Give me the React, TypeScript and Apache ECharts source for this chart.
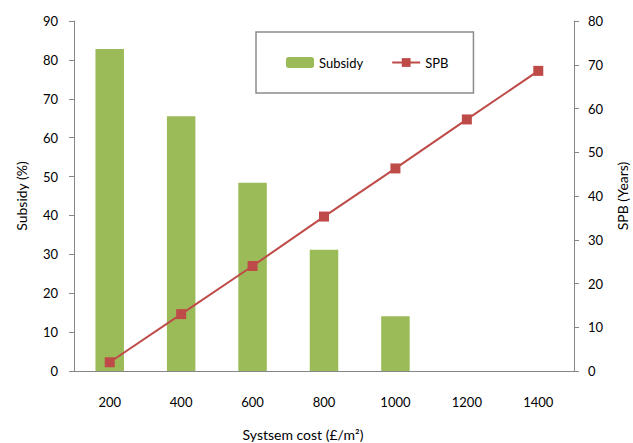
import React, { useEffect, useRef } from "react";
import * as echarts from "echarts";

// System cost categories (£/m²)
const costs = ["200", "400", "600", "800", "1000", "1200", "1400"];
// Subsidy required (%) — left axis
const subsidy = [82.8, 65.5, 48.4, 31.2, 14.1, 0, 0];
// Simple payback (years) — right axis
const spb = [2.0, 13.0, 24.0, 35.3, 46.3, 57.5, 68.6];

const FONT = "Lato";
const AXIS_GREY = "#868686";

export default function App() {
  const ref = useRef<HTMLDivElement>(null);

  useEffect(() => {
    if (!ref.current) return;
    const chart = echarts.init(ref.current, undefined, { renderer: "svg" });
    chart.setOption({
      animation: false,
      backgroundColor: "#ffffff",
      textStyle: { fontFamily: FONT },
      grid: {
        left: 74,
        right: 59,
        top: 21,
        bottom: 72,
        containLabel: false,
        outerBoundsMode: "none",
      },
      legend: {
        left: 256,
        top: 32,
        padding: [24, 25, 24, 30],
        itemGap: 28,
        itemWidth: 28,
        itemHeight: 11,
        borderColor: "#8c8c8c",
        borderWidth: 1.5,
        backgroundColor: "#ffffff",
        textStyle: { fontFamily: FONT, fontSize: 13, color: "#000" },
        data: ["Subsidy", "SPB"],
      },
      xAxis: {
        type: "category",
        data: costs,
        boundaryGap: true,
        name: "Systsem cost (£/m²)",
        nameLocation: "middle",
        nameGap: 56,
        nameTextStyle: {
          fontFamily: FONT,
          fontSize: 14,
          color: "#000",
          padding: [0, 42, 0, 0],
        },
        axisLine: { lineStyle: { color: AXIS_GREY, width: 1 } },
        axisTick: { show: false },
        axisLabel: { fontFamily: FONT, fontSize: 13, color: "#000", margin: 24 },
      },
      yAxis: [
        {
          type: "value",
          min: 0,
          max: 90,
          interval: 10,
          name: "Subsidy (%)",
          nameLocation: "middle",
          nameGap: 46,
          nameRotate: 90,
          nameTextStyle: { fontFamily: FONT, fontSize: 14, color: "#000" },
          axisLine: { show: true, lineStyle: { color: AXIS_GREY, width: 1 } },
          axisTick: { show: true, length: 5, lineStyle: { color: AXIS_GREY } },
          axisLabel: { fontFamily: FONT, fontSize: 13, color: "#000", margin: 16 },
          splitLine: { show: false },
        },
        {
          type: "value",
          min: 0,
          max: 80,
          interval: 10,
          name: "SPB (Years)",
          nameLocation: "middle",
          nameGap: 41,
          nameRotate: 90,
          nameTextStyle: { fontFamily: FONT, fontSize: 14, color: "#000" },
          axisLine: { show: true, lineStyle: { color: AXIS_GREY, width: 1 } },
          axisTick: { show: true, length: 5, lineStyle: { color: AXIS_GREY } },
          axisLabel: { fontFamily: FONT, fontSize: 13, color: "#000", margin: 14 },
          splitLine: { show: false },
        },
      ],
      series: [
        {
          name: "Subsidy",
          type: "bar",
          yAxisIndex: 0,
          data: subsidy,
          barWidth: 28.5,
          itemStyle: { color: "#9BBB59" },
        },
        {
          name: "SPB",
          type: "line",
          yAxisIndex: 1,
          data: spb,
          symbol: "rect",
          symbolSize: 10,
          lineStyle: { color: "#BE4B48", width: 2 },
          itemStyle: { color: "#BE4B48" },
        },
      ],
    });
    return () => chart.dispose();
  }, []);

  return (
    <div
      ref={ref}
      style={{ position: "fixed", left: 0, top: 0, width: 633, height: 443 }}
    />
  );
}
